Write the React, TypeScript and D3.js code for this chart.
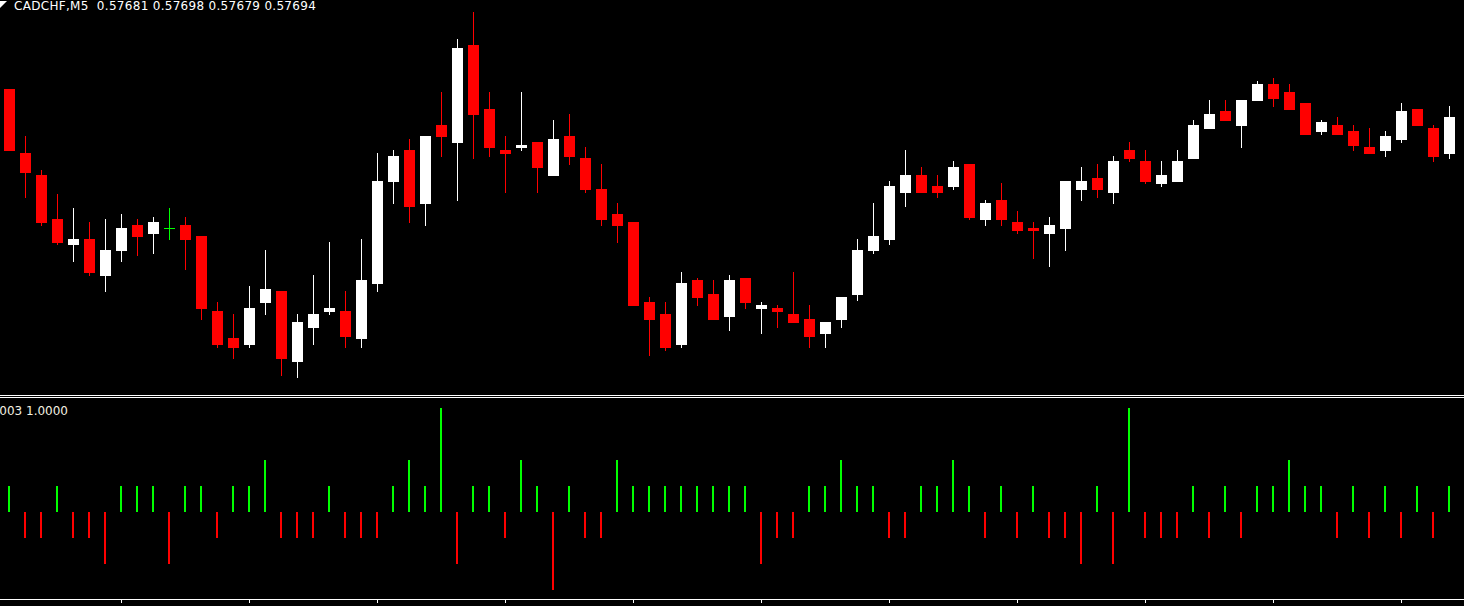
import React from "react";
import * as d3 from "d3";

const symbolTitle = "CADCHF,M5  0.57681 0.57698 0.57679 0.57694";
const indicatorLabel = "003 1.0000";

const opens = [
  0.57704, 0.57681, 0.57673, 0.57657, 0.57648, 0.5765, 0.57637, 0.57646, 0.57655, 0.57652,
  0.57654, 0.57655, 0.57651, 0.57624, 0.57614, 0.57612, 0.57627, 0.57631, 0.57606, 0.57618,
  0.57624, 0.57624, 0.57614, 0.57634, 0.57671, 0.57682, 0.57663, 0.57691, 0.57685, 0.5772,
  0.57697, 0.57682, 0.57683, 0.57685, 0.57673, 0.57687, 0.57679, 0.57668, 0.57659, 0.57656,
  0.57627, 0.57623, 0.57612, 0.57635, 0.5763, 0.57622, 0.57636, 0.57625, 0.57625, 0.57623,
  0.57621, 0.57616, 0.57621, 0.5763, 0.57646, 0.5765, 0.57667, 0.57673, 0.57669, 0.57669,
  0.57677, 0.57657, 0.57664, 0.57656, 0.57654, 0.57652, 0.57654, 0.57668, 0.57672, 0.57667,
  0.57682, 0.57678, 0.5767, 0.57671, 0.57679, 0.5769, 0.57696, 0.57691, 0.577, 0.57706,
  0.57703, 0.57699, 0.57689, 0.57691, 0.57689, 0.57683, 0.57682, 0.57686, 0.57697, 0.5769,
  0.57681,
];
const highs = [
  0.57704, 0.57687, 0.57675, 0.57666, 0.57661, 0.57656, 0.57657, 0.57659, 0.57657, 0.57658,
  0.57661, 0.57658, 0.57651, 0.57627, 0.57623, 0.57633, 0.57646, 0.57631, 0.57623, 0.57637,
  0.57649, 0.57631, 0.5765, 0.57681, 0.57682, 0.57686, 0.57687, 0.57703, 0.57722, 0.57732,
  0.57703, 0.57687, 0.57703, 0.57685, 0.57693, 0.57695, 0.57683, 0.57677, 0.57663, 0.57656,
  0.57629, 0.57627, 0.57638, 0.57636, 0.57635, 0.57637, 0.57636, 0.57627, 0.57626, 0.57638,
  0.57626, 0.5762, 0.57629, 0.5765, 0.57663, 0.57671, 0.57682, 0.57676, 0.57673, 0.57678,
  0.57677, 0.57664, 0.5767, 0.5766, 0.57656, 0.57658, 0.57671, 0.57676, 0.57677, 0.5768,
  0.57685, 0.57682, 0.57678, 0.57682, 0.57693, 0.577, 0.577, 0.577, 0.57707, 0.57708,
  0.57706, 0.57699, 0.57693, 0.57694, 0.57691, 0.5769, 0.57689, 0.57699, 0.57697, 0.57691,
  0.57698,
];
const lows = [
  0.57682, 0.57665, 0.57655, 0.57648, 0.57642, 0.57637, 0.57631, 0.57642, 0.57644, 0.57645,
  0.5765, 0.57639, 0.57621, 0.57611, 0.57607, 0.57611, 0.57623, 0.57601, 0.576, 0.57612,
  0.57623, 0.57611, 0.57611, 0.57631, 0.57663, 0.57656, 0.57655, 0.5768, 0.57664, 0.57679,
  0.5768, 0.57667, 0.57682, 0.57667, 0.57673, 0.57677, 0.57667, 0.57655, 0.57649, 0.57626,
  0.57608, 0.5761, 0.57611, 0.57626, 0.57621, 0.57617, 0.57625, 0.57616, 0.57618, 0.5762,
  0.57611, 0.57611, 0.57618, 0.57628, 0.57645, 0.57648, 0.57662, 0.57667, 0.57665, 0.57668,
  0.57657, 0.57655, 0.57655, 0.57652, 0.57643, 0.5764, 0.57646, 0.57664, 0.57665, 0.57663,
  0.57678, 0.5767, 0.57669, 0.57671, 0.57679, 0.5769, 0.57693, 0.57683, 0.577, 0.57698,
  0.57697, 0.57688, 0.57688, 0.57688, 0.57682, 0.57681, 0.5768, 0.57685, 0.57691, 0.57678,
  0.57679,
];
const closes = [
  0.57682, 0.57674, 0.57656, 0.57649, 0.5765, 0.57638, 0.57646, 0.57654, 0.57651, 0.57656,
  0.57654, 0.5765, 0.57625, 0.57612, 0.57611, 0.57625, 0.57632, 0.57607, 0.5762, 0.57623,
  0.57625, 0.57615, 0.57635, 0.57671, 0.5768, 0.57662, 0.57687, 0.57687, 0.57719, 0.57695,
  0.57683, 0.57681, 0.57684, 0.57676, 0.57686, 0.5768, 0.57668, 0.57657, 0.57655, 0.57626,
  0.57621, 0.57611, 0.57634, 0.57629, 0.57621, 0.57635, 0.57627, 0.57626, 0.57624, 0.5762,
  0.57615, 0.5762, 0.57629, 0.57646, 0.57651, 0.57669, 0.57673, 0.57667, 0.57667, 0.57676,
  0.57658, 0.57663, 0.57657, 0.57653, 0.57653, 0.57655, 0.57671, 0.57671, 0.57668, 0.57678,
  0.57679, 0.57671, 0.57673, 0.57678, 0.57691, 0.57695, 0.57693, 0.577, 0.57706, 0.57701,
  0.57697, 0.57688, 0.57692, 0.57688, 0.57684, 0.57681, 0.57687, 0.57696, 0.57691, 0.5768,
  0.57694,
];
const signals = [
  1, -1, -1, 1, -1, -1, -2, 1, 1, 1, -2, 1, 1, -1, 1, 1, 2, -1, -1, -1, 1, -1, -1, -1, 1, 2, 1, 4, -2, 1,
  1, -1, 2, 1, -3, 1, -1, -1, 2, 1, 1, 1, 1, 1, 1, 1, 1, -2, -1, -1, 1, 1, 2, 1, 1, -1, -1, 1, 1, 2,
  1, -1, 1, -1, 1, -1, -1, -2, 1, -2, 4, -1, -1, -1, 1, -1, 1, -1, 1, 1, 2, 1, 1, -1, 1, -1, 1, -1, 1, -1, 1,
];
const timeTickIndex = [7, 15, 23, 31, 39, 47, 55, 63, 71, 79, 87];

const W = 1464;
const H = 606;
const BULL = "#ffffff";
const BEAR = "#ff0000";
const DOJI = "#00ff00";
const SIG_UP = "#00ff00";
const SIG_DN = "#ff0000";
const FONT = "'DejaVu Sans', Verdana, sans-serif";

export default function App() {
  const n = opens.length;
  const x = d3.scaleLinear().domain([0, n - 1]).range([9.5, 9.5 + 16 * (n - 1)]);
  const y = d3.scaleLinear().domain([0.575936, 0.577362]).range([395, 0]);
  const ys = d3.scaleLinear().domain([-3, 4]).range([590, 408]);
  const bodyW = 11;

  return (
    <svg
      width={W}
      height={H}
      style={{ position: "absolute", left: 0, top: 0, display: "block", background: "#000" }}
    >
      <rect x={0} y={0} width={W} height={H} fill="#000" />
      {/* candles */}
      {opens.map((o, i) => {
        const c = closes[i];
        const cx = x(i);
        const col = c > o ? BULL : c < o ? BEAR : DOJI;
        const top = Math.round(y(Math.max(o, c)));
        const bot = Math.round(y(Math.min(o, c)));
        const hy = Math.round(y(highs[i]));
        const ly = Math.round(y(lows[i]));
        return (
          <g key={i}>
            <line x1={cx} x2={cx} y1={hy} y2={ly + 1} stroke={col} strokeWidth={1} />
            {c === o ? (
              <line x1={cx - bodyW / 2} x2={cx + bodyW / 2} y1={top + 0.5} y2={top + 0.5} stroke={col} strokeWidth={1} />
            ) : (
              <rect x={cx - bodyW / 2} y={top} width={bodyW} height={Math.max(1, bot - top + 1)} fill={col} />
            )}
          </g>
        );
      })}
      {/* title */}
      <polygon points="0,1 7,1 0,8" fill="#ffffff" />
      <text
        x={14}
        y={10}
        fill="#ffffff"
        fontFamily={FONT}
        fontSize={12}
        letterSpacing={0.3}
        style={{ whiteSpace: "pre" }}
        xmlSpace="preserve"
      >
        {symbolTitle}
      </text>
      {/* separators */}
      <line x1={0} x2={W} y1={395.5} y2={395.5} stroke="#ffffff" strokeWidth={1} />
      <line x1={0} x2={W} y1={397.5} y2={397.5} stroke="#ffffff" strokeWidth={1} />
      {/* indicator */}
      <text x={68} y={415} textAnchor="end" fill="#f4f0e0" fontFamily={FONT} fontSize={12}>
        {indicatorLabel}
      </text>
      {signals.map((v, i) => {
        const cx = Math.floor(x(i));
        const y0 = ys(0);
        const y1 = ys(v);
        return (
          <rect
            key={"s" + i}
            x={cx - 1}
            y={Math.min(y0, y1)}
            width={2}
            height={Math.abs(y1 - y0)}
            fill={v > 0 ? SIG_UP : SIG_DN}
          />
        );
      })}
      {/* bottom axis */}
      <line x1={0} x2={W} y1={599.5} y2={599.5} stroke="#ffffff" strokeWidth={1} />
      {timeTickIndex.map((t) => (
        <line key={"t" + t} x1={x(t)} x2={x(t)} y1={599} y2={603} stroke="#ffffff" strokeWidth={1} />
      ))}
    </svg>
  );
}
